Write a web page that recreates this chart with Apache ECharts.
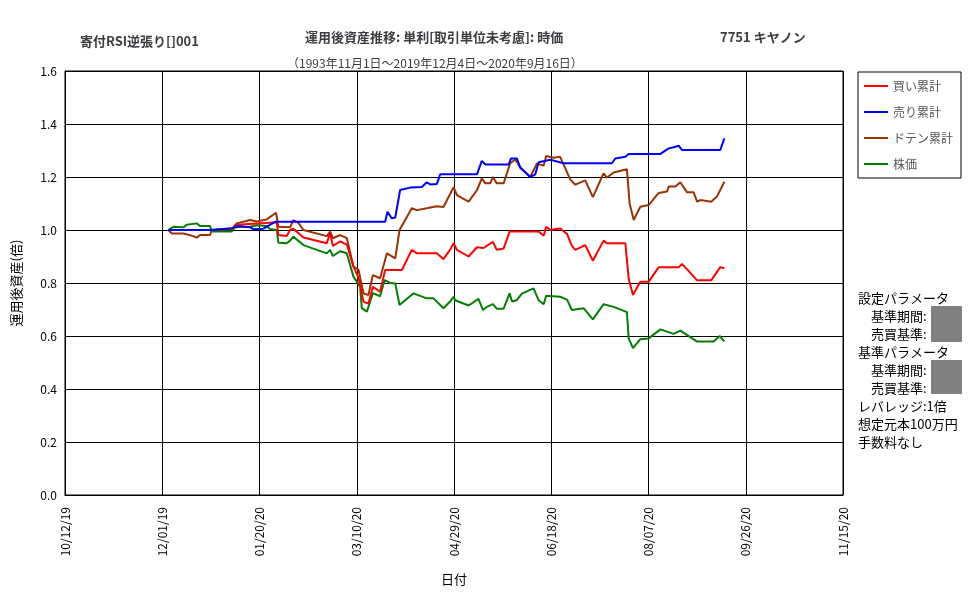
<!DOCTYPE html>
<html><head><meta charset="utf-8">
<script src="https://cdn.jsdelivr.net/npm/echarts@6/dist/echarts.min.js"></script>
<style>body{margin:0;background:#fff}#c{width:977px;height:600px}</style>
</head><body><div id="c"></div>
<script>
// x = days since 2019-10-12
const baseDate = [2019, 9, 12];
const xTickStep = 50;
const buyCum = [[53.1,1.0],[74.6,1.0],[75.4,1.0],[86.6,1.006],[88.3,1.02],[107.2,1.028],[108.9,1.028],[109.7,0.981],[114,0.977],[115.7,1.0],[117.4,1.005],[122.6,0.972],[134.6,0.95],[136.3,0.99],[137.7,0.94],[141.5,0.957],[144.9,0.945],[148.3,0.862],[150.9,0.82],[153.5,0.729],[156,0.722],[158.3,0.786],[162,0.767],[164.6,0.849],[173.2,0.849],[178.3,0.925],[180.9,0.912],[191.2,0.912],[194.6,0.89],[198,0.926],[199.8,0.95],[201.5,0.925],[207.5,0.9],[211.8,0.935],[215.2,0.932],[220,0.955],[222,0.925],[225.5,0.93],[228.6,0.994],[243.5,0.994],[246.1,0.978],[247.4,1.0125],[249.5,1.0],[254.6,1.006],[258.1,0.985],[260.6,0.94],[262.4,0.925],[267.5,0.943],[271.4,0.884],[276.9,0.96],[278.6,0.95],[288.1,0.95],[289.8,0.817],[292,0.755],[295.8,0.805],[300.1,0.805],[305.2,0.859],[315.5,0.859],[317.2,0.872],[320.7,0.845],[325,0.81],[332.2,0.81],[336.9,0.86],[339,0.856]];
const sellCum = [[53.1,1.0],[75.4,1.0],[76.3,1.007],[85.7,1.007],[89.1,1.015],[95.2,1.01],[96.9,1.003],[102,1.005],[108,1.031],[164.6,1.031],[165.8,1.069],[168,1.044],[169.8,1.047],[172.3,1.151],[177.5,1.16],[183.5,1.162],[186,1.18],[187.8,1.172],[191.2,1.174],[192.9,1.21],[211.8,1.21],[214.3,1.261],[216.1,1.247],[228.1,1.247],[229.3,1.27],[232.3,1.27],[234.1,1.235],[239.2,1.2],[241.8,1.21],[243.5,1.256],[249.5,1.265],[256.4,1.252],[281.2,1.252],[282.9,1.27],[288.1,1.276],[289.8,1.287],[306.1,1.287],[310.4,1.308],[313,1.312],[315.5,1.318],[317.2,1.302],[336.9,1.302],[339,1.346]];
const dotenCum = [[53.1,1.0],[54.9,0.987],[60.9,0.987],[66,0.977],[67.7,0.971],[69.4,0.981],[74.6,0.981],[75.4,1.0],[85.7,1.003],[88.3,1.025],[95.2,1.038],[98.6,1.032],[103.7,1.04],[108.5,1.065],[109.7,1.012],[115.7,1.01],[117.4,1.037],[120,1.027],[122.6,1.0],[134.6,0.977],[136.3,0.994],[137.7,0.969],[141.5,0.981],[144.9,0.969],[148.3,0.862],[150.9,0.85],[153.5,0.761],[156,0.755],[158.3,0.83],[162,0.818],[165.5,0.912],[169.8,0.893],[172,1.0],[178.3,1.082],[180.9,1.075],[186,1.082],[191.2,1.09],[194.6,1.087],[198,1.136],[199.8,1.161],[201.5,1.132],[207.5,1.107],[211.8,1.15],[214.3,1.195],[216.1,1.176],[218.6,1.176],[220,1.2],[222,1.176],[225.5,1.176],[228.9,1.252],[231.5,1.266],[234.1,1.236],[239.2,1.2],[242.6,1.25],[246.1,1.243],[247.4,1.279],[251.2,1.273],[254.6,1.276],[259.8,1.19],[262.4,1.171],[267.5,1.187],[271.4,1.124],[276.9,1.214],[278.6,1.198],[282.1,1.217],[288.9,1.229],[290.3,1.1],[292.4,1.038],[295.8,1.088],[300.1,1.094],[305.2,1.14],[309.5,1.145],[310.4,1.164],[313.8,1.164],[316.4,1.18],[319.8,1.142],[323.2,1.142],[325,1.107],[326.7,1.113],[332.2,1.107],[335.2,1.126],[339,1.182]];
const stockPrice = [[53.1,1.0],[55.7,1.012],[60.9,1.01],[62.6,1.02],[67.7,1.025],[69.4,1.015],[74.6,1.015],[75.4,0.994],[85.7,0.994],[87.4,1.01],[95.2,1.012],[98.6,1.018],[103.7,1.015],[105.4,1.004],[108.9,1.0],[109.7,0.952],[114,0.95],[115.7,0.96],[117.4,0.975],[122.6,0.943],[134.6,0.912],[136.3,0.925],[137.7,0.902],[141.5,0.92],[144.9,0.912],[148.3,0.824],[151.7,0.786],[152.6,0.705],[155.2,0.692],[158.3,0.762],[162,0.75],[164.3,0.811],[167.2,0.8],[169.8,0.798],[172,0.717],[179.2,0.761],[186,0.742],[189.5,0.742],[194.6,0.705],[198,0.73],[199.8,0.748],[200.6,0.735],[207.5,0.715],[212.6,0.74],[214.9,0.698],[216.9,0.71],[220,0.72],[222,0.703],[225.5,0.703],[228.6,0.761],[229.8,0.73],[232.3,0.735],[234.9,0.76],[240.9,0.78],[243.5,0.735],[246.1,0.72],[247.4,0.752],[254.6,0.748],[258.1,0.737],[260.6,0.698],[266.6,0.705],[271.4,0.663],[276.9,0.72],[282.1,0.71],[288.9,0.69],[289.8,0.591],[292,0.554],[295.8,0.588],[300.1,0.591],[306.1,0.625],[313,0.608],[316.4,0.62],[325,0.579],[333.5,0.579],[336.6,0.6],[339,0.58]];
const yTicks = [0,0.2,0.4,0.6,0.8,1.0,1.2,1.4,1.6];
const legendNames = ['買い累計','売り累計','ドテン累計','株価'];
const colors = ['#ff0000','#0000ff','#993300','#008000'];

function fmtDay(d){
  const t = new Date(Date.UTC(baseDate[0],baseDate[1],baseDate[2]) + d*86400000);
  const p = n=>String(n).padStart(2,'0');
  return p(t.getUTCMonth()+1)+'/'+p(t.getUTCDate())+'/'+p(t.getUTCFullYear()%100);
}
const font = 'Noto Sans CJK JP';
const chart = echarts.init(document.getElementById('c'));
const seriesData = [buyCum, sellCum, dotenCum, stockPrice];
const order = [2,3,0,1];
chart.setOption({
  animation:false,
  textStyle:{fontFamily:font,color:'#000'},
  title:[
    {text:'寄付RSI逆張り[]001',left:75,top:30,textStyle:{fontSize:13,fontWeight:'bold',fontFamily:font}},
    {text:'運用後資産推移: 単利[取引単位未考慮]: 時価',left:300,top:26,textStyle:{fontSize:13,fontWeight:'bold',fontFamily:font}},
    {text:'7751 キヤノン',left:715,top:26,textStyle:{fontSize:13,fontWeight:'bold',fontFamily:font}},
    {text:'（1993年11月1日～2019年12月4日～2020年9月16日）',left:282,top:52,textStyle:{fontSize:12,fontWeight:'normal',fontFamily:font}}
  ],
  legend:{orient:'vertical',left:858,top:72,data:legendNames,itemWidth:24,itemHeight:2,itemGap:14,icon:'rect',
    padding:[8,8,8,6],borderColor:'#000',borderWidth:1,textStyle:{fontSize:12,fontFamily:font}},
  grid:{left:65,right:134,top:71,bottom:105},
  xAxis:{type:'value',min:0,max:400,interval:xTickStep,
    name:'日付',nameLocation:'middle',nameGap:78,nameTextStyle:{fontSize:13},
    axisLine:{lineStyle:{color:'#000'}},axisTick:{show:false},
    axisLabel:{rotate:90,formatter:v=>fmtDay(v),fontSize:12,color:'#000',margin:12},
    splitLine:{show:true,lineStyle:{color:'#000',width:1}}},
  yAxis:{type:'value',min:0,max:1.6,interval:0.2,
    name:'運用後資産(倍)',nameLocation:'middle',nameGap:42,nameRotate:90,nameTextStyle:{fontSize:13},
    axisLine:{show:true,lineStyle:{color:'#000'}},axisTick:{show:false},
    axisLabel:{formatter:v=>v.toFixed(1),fontSize:12,color:'#000'},
    splitLine:{lineStyle:{color:'#000',width:1}}},
  graphic:[
    {type:'rect',shape:{x:65,y:71,width:778,height:424},style:{fill:'none',stroke:'#000',lineWidth:1},silent:true},
    {type:'text',left:858,top:289,style:{text:'設定パラメータ\n　基準期間:\n　売買基準:\n基準パラメータ\n　基準期間:\n　売買基準:\nレバレッジ:1倍\n想定元本100万円\n手数料なし',font:'13px "Noto Sans CJK JP"',lineHeight:18,fill:'#000'}},
    {type:'rect',shape:{x:931,y:306,width:31,height:36},style:{fill:'#808080'}},
    {type:'rect',shape:{x:931,y:360,width:31,height:34},style:{fill:'#808080'}}
  ],
  series: order.map(i=>({name:legendNames[i],type:'line',data:seriesData[i],showSymbol:false,
    lineStyle:{color:colors[i],width:2},itemStyle:{color:colors[i]}}))
});
</script></body></html>
